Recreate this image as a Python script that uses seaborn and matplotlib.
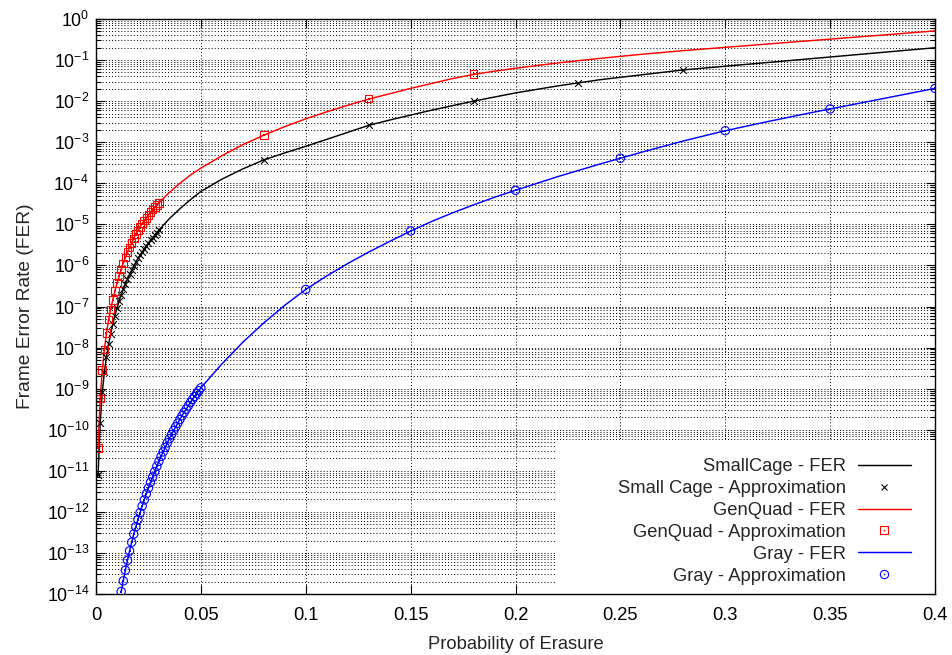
import matplotlib
matplotlib.use("Agg")
import numpy as np
import pandas as pd
import seaborn as sns
import matplotlib.pyplot as plt
from matplotlib.lines import Line2D
from matplotlib.patches import Rectangle
from matplotlib.legend_handler import HandlerTuple
from matplotlib.ticker import LogLocator, FixedLocator, FixedFormatter, NullFormatter

# ---------------- data (stored as log10 of FER) -------------
dense_x = [0.001, 0.002, 0.003, 0.004, 0.005, 0.006, 0.007, 0.008, 0.009, 0.010,
           0.011, 0.012, 0.013, 0.014, 0.015, 0.016, 0.017, 0.018, 0.019, 0.020,
           0.021, 0.022, 0.023, 0.024, 0.025, 0.026, 0.027, 0.028, 0.029, 0.030]
smallcage_dense_log10 = [-11.10, -9.83, -9.08, -8.60, -8.22, -7.92, -7.66, -7.43, -7.22, -7.04,
                         -6.87, -6.72, -6.58, -6.45, -6.33, -6.22, -6.11, -6.01, -5.92, -5.83,
                         -5.75, -5.67, -5.59, -5.52, -5.45, -5.38, -5.32, -5.26, -5.20, -5.14]
genquad_dense_log10 = [-10.45, -9.24, -8.55, -8.05, -7.65, -7.32, -7.07, -6.84, -6.62, -6.43,
                       -6.26, -6.10, -5.95, -5.81, -5.68, -5.56, -5.45, -5.34, -5.24, -5.15,
                       -5.06, -4.98, -4.91, -4.84, -4.77, -4.70, -4.64, -4.58, -4.53, -4.48]

mid_x = [0.035, 0.04, 0.045, 0.05]
smallcage_mid_log10 = [-4.86, -4.62, -4.40, -4.20]
genquad_mid_log10 = [-4.22, -4.00, -3.80, -3.63]

tail_x = [0.06, 0.07, 0.08, 0.09, 0.10, 0.11, 0.12, 0.13, 0.14, 0.15, 0.16, 0.17, 0.18,
          0.19, 0.20, 0.22, 0.24, 0.26, 0.28, 0.30, 0.32, 0.34, 0.36, 0.38, 0.40]
smallcage_tail_log10 = [-3.90, -3.65, -3.43, -3.26, -3.10, -2.93, -2.76, -2.59, -2.46, -2.34,
                        -2.22, -2.11, -2.00, -1.90, -1.80, -1.63, -1.48, -1.36, -1.24, -1.15,
                        -1.06, -0.97, -0.88, -0.79, -0.70]
genquad_tail_log10 = [-3.33, -3.06, -2.83, -2.62, -2.43, -2.26, -2.10, -1.95, -1.82, -1.69,
                      -1.57, -1.45, -1.35, -1.27, -1.20, -1.07, -0.96, -0.86, -0.77, -0.69,
                      -0.61, -0.53, -0.45, -0.37, -0.29]
gray_tail_log10 = [-8.40, -7.87, -7.40, -6.97, -6.585, -6.255, -5.955, -5.675, -5.415, -5.165,
                   -4.93, -4.72, -4.525, -4.34, -4.17, -3.84, -3.535, -3.245, -2.97, -2.72,
                   -2.50, -2.29, -2.09, -1.89, -1.69]

gray_dense_x = [0.012, 0.013, 0.014, 0.015, 0.016, 0.017, 0.018, 0.019, 0.020, 0.021,
                0.022, 0.023, 0.024, 0.025, 0.026, 0.027, 0.028, 0.029, 0.030, 0.031,
                0.032, 0.033, 0.034, 0.035, 0.036, 0.037, 0.038, 0.039, 0.040, 0.041,
                0.042, 0.043, 0.044, 0.045, 0.046, 0.047, 0.048, 0.049, 0.050]
gray_dense_log10 = [-13.94, -13.68, -13.42, -13.18, -12.95, -12.74, -12.54, -12.36, -12.19, -12.02,
                    -11.86, -11.71, -11.56, -11.42, -11.28, -11.15, -11.02, -10.89, -10.77, -10.65,
                    -10.54, -10.43, -10.32, -10.22, -10.12, -10.02, -9.93, -9.84, -9.75, -9.66,
                    -9.58, -9.50, -9.42, -9.34, -9.26, -9.19, -9.12, -9.05, -8.98]

smallcage_sparse_x = [0.08, 0.13, 0.18, 0.23, 0.28]
smallcage_sparse_log10 = [-3.43, -2.59, -2.00, -1.555, -1.24]
genquad_sparse_x = [0.08, 0.13, 0.18]
genquad_sparse_log10 = [-2.83, -1.94, -1.34]
gray_sparse_x = [0.10, 0.15, 0.20, 0.25, 0.30, 0.35, 0.40]
gray_sparse_log10 = [-6.585, -5.16, -4.17, -3.39, -2.72, -2.19, -1.69]

x_ticks = [0, 0.05, 0.1, 0.15, 0.2, 0.25, 0.3, 0.35, 0.4]
x_tick_labels = ["0", "0.05", "0.1", "0.15", "0.2", "0.25", "0.3", "0.35", "0.4"]

legend_labels = ["SmallCage - FER", "Small Cage - Approximation", "GenQuad - FER",
                 "GenQuad - Approximation", "Gray - FER", "Gray - Approximation"]

# ---------------- assemble -----------------
def pw(a):
    return np.power(10.0, np.asarray(a, dtype=float))

sc_fer = pd.DataFrame({"x": dense_x + mid_x + tail_x,
                       "y": pw(smallcage_dense_log10 + smallcage_mid_log10 + smallcage_tail_log10)})
gq_fer = pd.DataFrame({"x": dense_x + mid_x + tail_x,
                       "y": pw(genquad_dense_log10 + genquad_mid_log10 + genquad_tail_log10)})
gr_fer = pd.DataFrame({"x": gray_dense_x + tail_x,
                       "y": pw(gray_dense_log10 + gray_tail_log10)})
sc_app = pd.DataFrame({"x": dense_x + smallcage_sparse_x,
                       "y": pw(smallcage_dense_log10 + smallcage_sparse_log10)})
gq_app = pd.DataFrame({"x": dense_x + genquad_sparse_x,
                       "y": pw(genquad_dense_log10 + genquad_sparse_log10)})
gr_app = pd.DataFrame({"x": gray_dense_x + gray_sparse_x,
                       "y": pw(gray_dense_log10 + gray_sparse_log10)})

sns.set_style("white")
plt.rcParams["font.family"] = ["Liberation Sans", "DejaVu Sans"]
plt.rcParams["mathtext.default"] = "regular"
FS = 13.2

fig = plt.figure(figsize=(9.52, 6.55), dpi=100)
ax = fig.add_axes([96 / 952, 61 / 655, (935 - 96) / 952, (594 - 19) / 655])

BLACK, RED, BLUE = "#000000", "#ff0000", "#0000ff"
LW = 1.05

sns.lineplot(data=sc_fer, x="x", y="y", color=BLACK, lw=LW, sort=False, estimator=None, ax=ax, zorder=3)
sns.lineplot(data=gq_fer, x="x", y="y", color=RED, lw=LW, sort=False, estimator=None, ax=ax, zorder=3)
sns.lineplot(data=gr_fer, x="x", y="y", color=BLUE, lw=LW, sort=False, estimator=None, ax=ax, zorder=3)

sns.scatterplot(data=sc_app, x="x", y="y", marker="x", color=BLACK, s=24, linewidth=0.8, ax=ax, zorder=4)
sns.scatterplot(data=gq_app, x="x", y="y", marker="s", facecolors="none", edgecolors=RED, s=30,
                linewidth=0.8, ax=ax, zorder=4)
sns.scatterplot(data=gq_app, x="x", y="y", marker="s", color=RED, s=1.2, linewidth=0, ax=ax, zorder=4)
sns.scatterplot(data=gr_app, x="x", y="y", marker="o", facecolors="none", edgecolors=BLUE, s=36,
                linewidth=0.8, ax=ax, zorder=4)
sns.scatterplot(data=gr_app, x="x", y="y", marker="s", color=BLUE, s=1.2, linewidth=0, ax=ax, zorder=4)

ax.set_yscale("log")
ax.set_xlim(0, 0.4)
ax.set_ylim(1e-14, 1)
ax.xaxis.set_major_locator(FixedLocator(x_ticks))
ax.xaxis.set_major_formatter(FixedFormatter(x_tick_labels))
ax.yaxis.set_major_locator(LogLocator(base=10, numticks=40))
ax.yaxis.set_minor_locator(LogLocator(base=10, subs=np.arange(2, 10), numticks=200))
ax.yaxis.set_minor_formatter(NullFormatter())

ax.set_axisbelow(True)
grid_kw = dict(color="black", lw=0.7, ls=(0, (1, 2.2)))
ax.grid(True, which="major", axis="both", **grid_kw)
ax.grid(True, which="minor", axis="y", **grid_kw)

for s in ax.spines.values():
    s.set_visible(True)
    s.set_linewidth(1.0)
    s.set_color("black")
    s.set_zorder(6)

ax.tick_params(which="both", direction="in", top=True, right=True, bottom=True, left=True,
               colors="black", width=0.8)
ax.tick_params(axis="x", labelsize=FS, pad=9)
ax.tick_params(axis="y", labelsize=12.8, pad=5)
ax.tick_params(which="major", length=6.5)
ax.tick_params(which="minor", length=3.5)

ax.set_xlabel("Probability of Erasure", fontsize=FS, labelpad=9)
ax.set_ylabel("Frame Error Rate (FER)", fontsize=13.8, labelpad=9)

# white key area (like gnuplot key box, covering the grid)
key_bg = Rectangle((0.548, 0.0), 0.452, 0.268, transform=ax.transAxes,
                   facecolor="white", edgecolor="none", zorder=1)
ax.add_patch(key_bg)

# legend
h_sc = Line2D([], [], color=BLACK, lw=LW)
h_sca = Line2D([], [], ls="none", marker="x", color=BLACK, ms=5, mew=0.8)
h_gq = Line2D([], [], color=RED, lw=LW)
h_gqa = (Line2D([], [], ls="none", marker="s", mfc="none", mec=RED, ms=5.5, mew=0.8),
         Line2D([], [], ls="none", marker="s", color=RED, ms=1.1, mew=0))
h_gr = Line2D([], [], color=BLUE, lw=LW)
h_gra = (Line2D([], [], ls="none", marker="o", mfc="none", mec=BLUE, ms=6, mew=0.8),
         Line2D([], [], ls="none", marker="s", color=BLUE, ms=1.1, mew=0))
leg = ax.legend([h_sc, h_sca, h_gq, h_gqa, h_gr, h_gra], legend_labels,
                loc="lower right", bbox_to_anchor=(0.9714, 0.016),
                markerfirst=False, frameon=False, fontsize=FS,
                handlelength=2.9, handletextpad=0.65, labelspacing=0.27,
                borderaxespad=0, borderpad=0,
                handler_map={tuple: HandlerTuple(ndivide=1, pad=0)})
leg.set_zorder(10)

fig.savefig("out.png", dpi=100)
